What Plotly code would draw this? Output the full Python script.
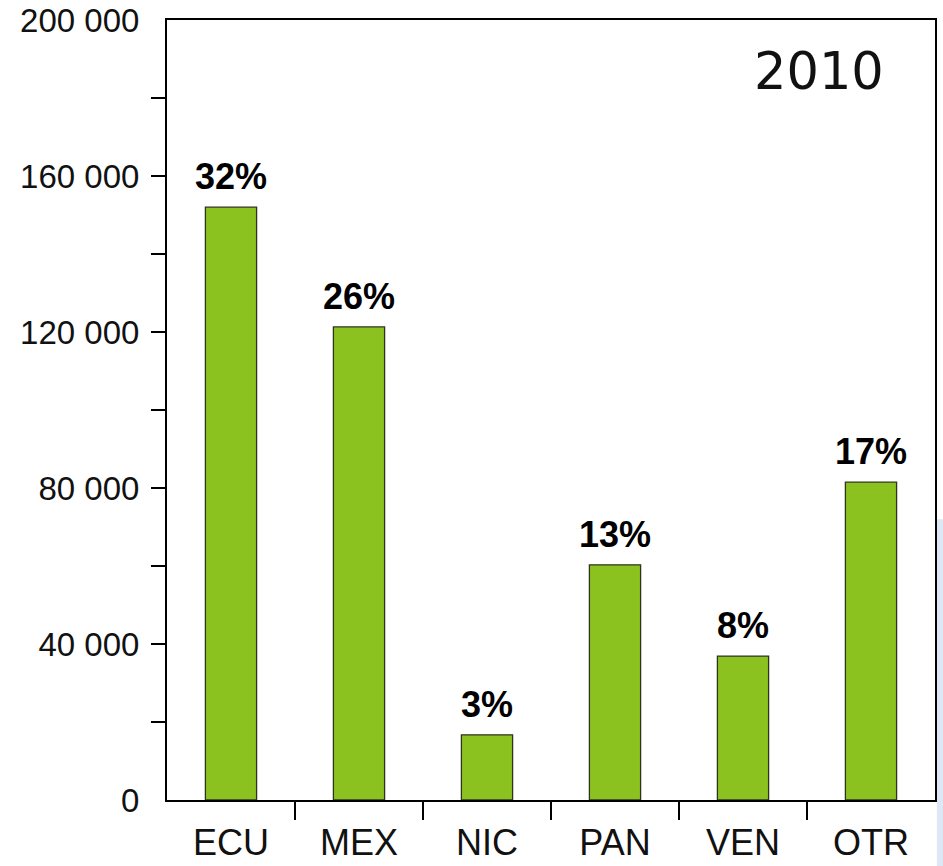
import plotly.graph_objects as go

categories = ["ECU", "MEX", "NIC", "PAN", "VEN", "OTR"]
values = [152000, 121300, 16700, 60300, 36900, 81500]
percent_labels = ["32%", "26%", "3%", "13%", "8%", "17%"]
y_tick_values = [0, 40000, 80000, 120000, 160000, 200000]
y_tick_labels = ["0", "40 000", "80 000", "120 000", "160 000", "200 000"]
year_label = "2010"

idx = list(range(len(categories)))

fig = go.Figure()
fig.add_trace(go.Bar(
    x=idx, y=values, width=0.4,
    marker=dict(color="#8bc220", line=dict(color="#2f3320", width=1.3)),
    hoverinfo="skip",
))

for i, v, t in zip(idx, values, percent_labels):
    fig.add_annotation(x=i, y=v, text="<b>%s</b>" % t, showarrow=False,
                       yanchor="bottom", yshift=8,
                       font=dict(family="Liberation Sans, Arial", size=36, color="black"))

fig.add_annotation(xref="paper", yref="paper", x=0.936, y=0.975, text=year_label,
                   showarrow=False, xanchor="right", yanchor="top",
                   font=dict(family="DejaVu Sans", size=51, color="#111"))

fig.add_shape(type="rect", xref="paper", yref="paper", x0=1.0025, x1=1.012, y0=-0.09, y1=0.36,
              line=dict(width=0), fillcolor="#dce8f5", layer="below")

fig.update_layout(
    width=943, height=866,
    margin=dict(l=167, r=8, t=20, b=66),
    paper_bgcolor="white", plot_bgcolor="white",
    showlegend=False,
    xaxis=dict(range=[-0.5, len(categories) - 0.5], tickvals=idx, ticktext=categories,
               ticks="", showgrid=False, zeroline=False, automargin=False,
               showline=True, linecolor="black", linewidth=2, mirror=True,
               tickfont=dict(family="Liberation Sans, Arial", size=36, color="#111"),
               ticklabelstandoff=10, ticklabeloverflow="allow",
               minor=dict(tickvals=[i + 0.5 for i in idx[:-1]], ticks="outside",
                          ticklen=18, tickwidth=2, tickcolor="black", showgrid=False)),
    yaxis=dict(range=[0, 200000], tickvals=y_tick_values, ticktext=y_tick_labels,
               ticks="", showgrid=False, zeroline=False, automargin=False,
               showline=True, linecolor="black", linewidth=2, mirror=True,
               tickfont=dict(family="Liberation Sans, Arial", size=33, color="#111"),
               ticklabelstandoff=19, ticklabeloverflow="allow",
               minor=dict(tickvals=list(range(20000, 200000, 20000)), ticks="outside",
                          ticklen=14, tickwidth=2, tickcolor="black", showgrid=False)),
)

fig.write_html("out.html", config={"displayModeBar": False},
               post_script="document.body.style.margin='0';")
